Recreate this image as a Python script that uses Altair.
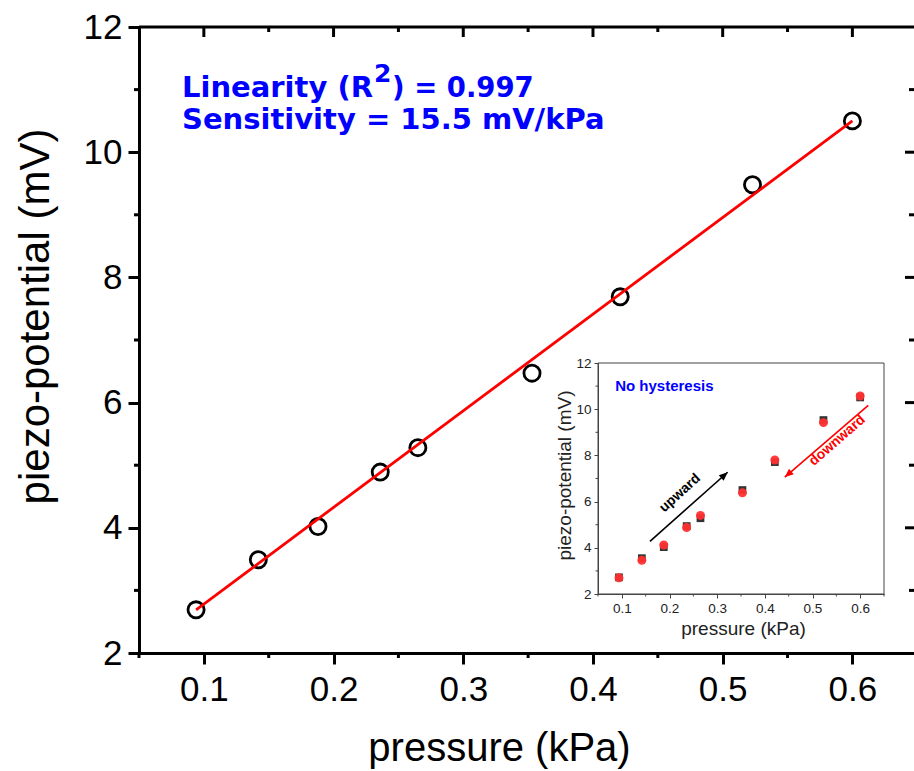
import altair as alt
import pandas as pd

# ---------------- data ----------------
pressure = [0.094, 0.142, 0.188, 0.236, 0.265, 0.353, 0.421, 0.523, 0.600]
voltage = [2.69, 3.49, 4.02, 4.89, 5.28, 6.47, 7.69, 9.48, 10.50]
fit_x = [0.094, 0.600]
fit_y = [2.69, 10.50]

inset_up = [2.72, 3.55, 4.03, 4.94, 5.28, 6.50, 7.71, 9.53, 10.51]
inset_down = [2.70, 3.46, 4.12, 4.88, 5.40, 6.38, 7.80, 9.42, 10.57]

x_ticks = [0.1, 0.2, 0.3, 0.4, 0.5, 0.6]
x_minor = [0.05, 0.15, 0.25, 0.35, 0.45, 0.55]
x_minor_top = [0.15, 0.25, 0.35, 0.45, 0.55]
y_ticks = [2, 4, 6, 8, 10, 12]
y_minor = [3, 5, 7, 9, 11]
y_major_right = [4, 6, 8, 10]
inset_x_minor = [0.05, 0.15, 0.25, 0.35, 0.45, 0.55, 0.65]

arrow_x = [0.159, 0.617]
arrow_y = [4.28, 10.17]
arrow_x2 = [0.322, 0.442]
arrow_y2 = [7.27, 7.06]
arrow_color = ["black", "red"]
arrow_angle = [48, 229]

label_text = ["upward", "downward"]
label_x = [0.222, 0.552]
label_y = [6.37, 8.64]
label_color = ["black", "red"]
label_angle = [318, 319]

ann_line1a = "Linearity (R"
ann_sup = "2"
ann_line1b = ") = 0.997"
ann_line2 = "Sensitivity = 15.5 mV/kPa"
inset_note = "No hysteresis"

# ---------------- layout constants ----------------
F = "Liberation Sans, Arial, Helvetica, sans-serif"
FB = "DejaVu Sans, Liberation Sans, sans-serif"
W, H = 775, 626
XD = [0.05, 0.6475]
YD = [2, 12]
IX0, IX1, IY0, IY1 = 459, 745, 567, 336


def xs():
    return alt.Scale(domain=XD, nice=False, zero=False)


def ys():
    return alt.Scale(domain=YD, nice=False, zero=False)


def ixs():
    return alt.Scale(domain=[0.05, 0.65], range=[IX0, IX1], nice=False, zero=False)


def iys():
    return alt.Scale(domain=[2, 12], range=[IY0, IY1], nice=False, zero=False)


x_axis = alt.Axis(
    orient="bottom", values=x_ticks, format=".1f", title="pressure (kPa)",
    labelFont=F, labelFontSize=35, labelColor="black", labelPadding=8,
    labelFlush=False, labelOverlap=False,
    tickSize=11, tickWidth=3, tickColor="black",
    domainWidth=3, domainColor="black", grid=False,
    titleFont=F, titleFontSize=40, titleFontWeight="normal", titleColor="black",
    titleBaseline="alphabetic", titleX=360, titleY=107,
)
y_axis = alt.Axis(
    orient="left", values=y_ticks, format="d", title="piezo-potential (mV)",
    labelFont=F, labelFontSize=35, labelColor="black", labelPadding=6,
    labelFlush=False, labelOverlap=False,
    tickSize=11, tickWidth=3, tickColor="black",
    domainWidth=3, domainColor="black", grid=False,
    titleFont=F, titleFontSize=42, titleFontWeight="normal", titleColor="black",
    titleAngle=270, titleBaseline="alphabetic", titleAlign="center",
    titleX=-91, titleY=289,
)

one = pd.DataFrame({"k": [0]})

# ---------------- main panel ----------------
main_df = pd.DataFrame({"pressure": pressure, "voltage": voltage})
fit_df = pd.DataFrame({"pressure": fit_x, "voltage": fit_y})

pts = alt.Chart(main_df).mark_point(
    shape="circle", filled=False, color="black", strokeWidth=2.8, size=260, opacity=1
).encode(
    x=alt.X("pressure:Q", scale=xs(), axis=x_axis),
    y=alt.Y("voltage:Q", scale=ys(), axis=y_axis),
)
fit = alt.Chart(fit_df).mark_line(color="#ff0000", strokeWidth=2.8).encode(
    x=alt.X("pressure:Q", scale=xs(), axis=None),
    y=alt.Y("voltage:Q", scale=ys(), axis=None),
)


def xtick_rules(vals, y0, y1):
    return alt.Chart(pd.DataFrame({"v": vals})).mark_rule(color="black", strokeWidth=3).encode(
        x=alt.X("v:Q", scale=xs(), axis=None), y=alt.value(y0), y2=alt.value(y1)
    )


def ytick_rules(vals, x0, x1):
    return alt.Chart(pd.DataFrame({"v": vals})).mark_rule(color="black", strokeWidth=3).encode(
        y=alt.Y("v:Q", scale=ys(), axis=None), x=alt.value(x0), x2=alt.value(x1)
    )


bottom_minor = xtick_rules(x_minor, H, H + 5)
top_major = xtick_rules(x_ticks, 0, 10)
top_minor = xtick_rules(x_minor_top, 0, 5)
left_minor = ytick_rules(y_minor, -5, 0)
right_major = ytick_rules(y_major_right, W - 9, W)
right_minor = ytick_rules(y_minor, W - 5, W)
top_line = alt.Chart(one).mark_rule(color="black", strokeWidth=3).encode(
    x=alt.value(0), x2=alt.value(W), y=alt.value(0)
)

blue_text = dict(font=FB, fontWeight="bold", color="#0000ff", align="left", baseline="alphabetic")
t1a = alt.Chart(one).mark_text(text=ann_line1a, fontSize=29, **blue_text).encode(
    x=alt.value(43), y=alt.value(70))
t1s = alt.Chart(one).mark_text(text=ann_sup, fontSize=25, **blue_text).encode(
    x=alt.value(235), y=alt.value(55))
t1b = alt.Chart(one).mark_text(text=ann_line1b, fontSize=27.5, **blue_text).encode(
    x=alt.value(253), y=alt.value(70))
t2 = alt.Chart(one).mark_text(text=ann_line2, fontSize=29, **blue_text).encode(
    x=alt.value(43), y=alt.value(102))

# ---------------- inset ----------------
ix_axis = alt.Axis(
    orient="bottom", offset=-(H - IY0), values=x_ticks, format=".1f", title="pressure (kPa)",
    labelFont=F, labelFontSize=13.5, labelColor="#222", labelPadding=3,
    labelFlush=False, labelOverlap=False,
    tickSize=4, tickWidth=1, tickColor="#444", domainWidth=1, domainColor="#444",
    grid=False, zindex=1,
    titleFont=F, titleFontSize=19, titleFontWeight="normal", titleColor="#222",
    titleBaseline="alphabetic", titleX=604, titleY=40,
)
iy_axis = alt.Axis(
    orient="left", offset=-IX0, values=y_ticks, format="d", title="piezo-potential (mV)",
    labelFont=F, labelFontSize=13.5, labelColor="#222", labelPadding=3,
    labelFlush=False, labelOverlap=False,
    tickSize=4, tickWidth=1, tickColor="#444", domainWidth=1, domainColor="#444",
    grid=False, zindex=1,
    titleFont=F, titleFontSize=19, titleFontWeight="normal", titleColor="#222",
    titleAngle=270, titleBaseline="alphabetic", titleAlign="center",
    titleX=-28, titleY=448,
)

inset_df = pd.DataFrame({"pressure": pressure, "up": inset_up, "down": inset_down})

frame = alt.Chart(one).mark_rect(fill="white", stroke="#444", strokeWidth=1).encode(
    x=alt.X(datum=0.05, scale=ixs(), axis=None),
    x2=alt.X2(datum=0.65),
    y=alt.Y(datum=2, scale=iys(), axis=None),
    y2=alt.Y2(datum=12),
)
sq = alt.Chart(inset_df).mark_square(size=60, color="#333333", opacity=1).encode(
    x=alt.X("pressure:Q", scale=ixs(), axis=ix_axis),
    y=alt.Y("up:Q", scale=iys(), axis=iy_axis),
)
ci = alt.Chart(inset_df).mark_circle(size=80, color="#ff3030", opacity=0.95).encode(
    x=alt.X("pressure:Q", scale=ixs(), axis=None),
    y=alt.Y("down:Q", scale=iys(), axis=None),
)
ix_minor = alt.Chart(pd.DataFrame({"v": inset_x_minor})).mark_rule(color="#444", strokeWidth=1).encode(
    x=alt.X("v:Q", scale=ixs(), axis=None), y=alt.value(IY0), y2=alt.value(IY0 + 2.5)
)
iy_minor = alt.Chart(pd.DataFrame({"v": y_minor})).mark_rule(color="#444", strokeWidth=1).encode(
    y=alt.Y("v:Q", scale=iys(), axis=None), x=alt.value(IX0 - 2.5), x2=alt.value(IX0)
)

arr_df = pd.DataFrame({"x": arrow_x, "y": arrow_y, "x2": arrow_x2, "y2": arrow_y2,
                       "c": arrow_color, "a": arrow_angle})
arr_lines = alt.Chart(arr_df).mark_rule(strokeWidth=1.6).encode(
    x=alt.X("x:Q", scale=ixs(), axis=None), y=alt.Y("y:Q", scale=iys(), axis=None),
    x2="x2:Q", y2="y2:Q",
    color=alt.Color("c:N", scale=None),
)
arr_heads = alt.Chart(arr_df).mark_point(
    shape="M0,0 L-0.42,1 L0.42,1 Z", filled=True, size=300, opacity=1, strokeWidth=0
).encode(
    x=alt.X("x2:Q", scale=ixs(), axis=None), y=alt.Y("y2:Q", scale=iys(), axis=None),
    color=alt.Color("c:N", scale=None),
    angle=alt.Angle("a:Q", scale=None),
)
lab_df = pd.DataFrame({"t": label_text, "x": label_x, "y": label_y, "c": label_color, "a": label_angle})
arr_labels = alt.Chart(lab_df).mark_text(
    font=F, fontWeight="bold", fontSize=14, align="center", baseline="middle"
).encode(
    x=alt.X("x:Q", scale=ixs(), axis=None), y=alt.Y("y:Q", scale=iys(), axis=None),
    text="t:N", color=alt.Color("c:N", scale=None), angle=alt.Angle("a:Q", scale=None),
)
note = alt.Chart(one).mark_text(
    text=inset_note, font=F, fontWeight="bold", fontSize=15, color="#0000ff",
    align="left", baseline="alphabetic"
).encode(
    x=alt.X(datum=0.086, scale=ixs(), axis=None),
    y=alt.Y(datum=10.79, scale=iys(), axis=None),
)

chart = alt.layer(
    top_line, bottom_minor, top_major, top_minor, left_minor, right_major, right_minor,
    pts, fit, t1a, t1s, t1b, t2,
    frame, ix_minor, iy_minor, sq, ci, arr_lines, arr_heads, arr_labels, note,
).resolve_scale(x="independent", y="independent").properties(
    width=W, height=H,
    autosize=alt.AutoSizeParams(type="none"),
    padding={"left": 139, "top": 27, "right": 0, "bottom": 118},
    background="white",
).configure_view(stroke=None)

chart.save("out.html", embed_options={"renderer": "svg", "actions": False})
